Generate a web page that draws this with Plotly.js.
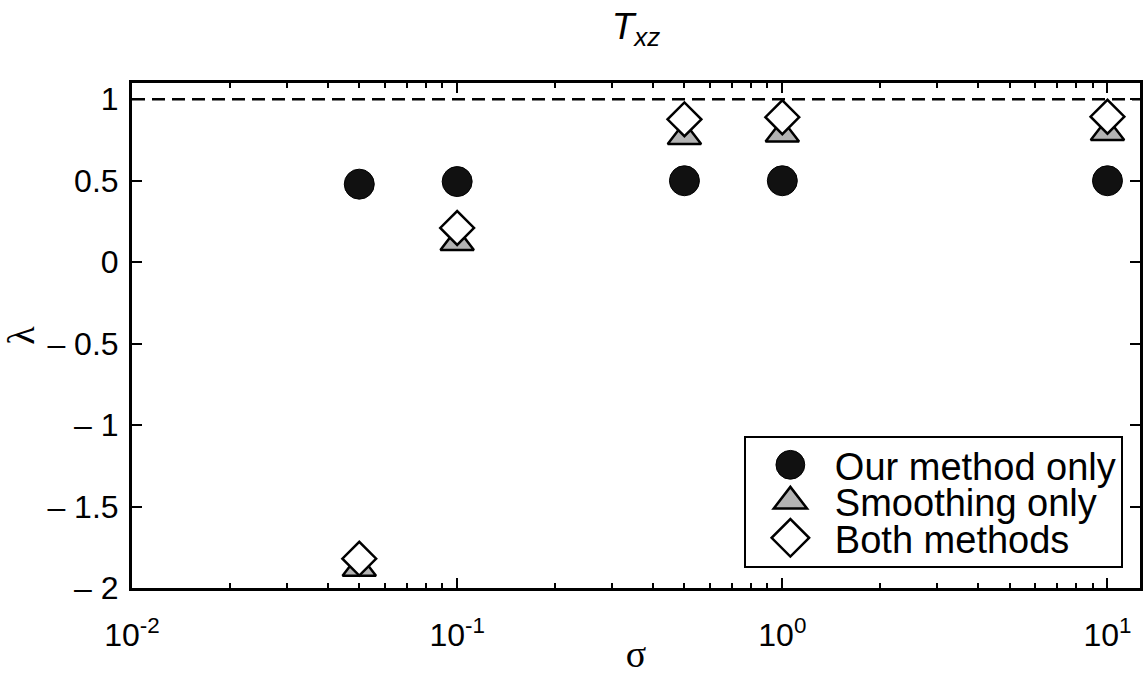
<!DOCTYPE html>
<html>
<head>
<meta charset="utf-8">
<script src="https://cdn.plot.ly/plotly-3.0.1.min.js"></script>
<style>
  html, body { margin: 0; padding: 0; background: #fff; }
  #chart { width: 1143px; height: 675px; }
</style>
</head>
<body>
<div id="chart"></div>
<script>
// ---- data ----
const sigmaValues = [0.05, 0.1, 0.5, 1, 10];
const ourMethodOnly = [0.479, 0.495, 0.5, 0.5, 0.5];
const smoothingOnly = [-1.88, 0.12, 0.77, 0.785, 0.795];
const bothMethods = [-1.82, 0.21, 0.877, 0.89, 0.893];
const seriesNames = ['Our method only', 'Smoothing only', 'Both methods'];
const referenceLevel = 1;
const xTickVals = [0.01, 0.1, 1, 10];
const xTickText = ['10<sup>-2</sup>', '10<sup>-1</sup>', '10<sup>0</sup>', '10<sup>1</sup>'];
const yTickVals = [-2, -1.5, -1, -0.5, 0, 0.5, 1];
const yTickText = ['\u2013 2', '\u2013 1.5', '\u2013 1', '\u2013 0.5', '0', '0.5', '1'];
const chartTitle = '<i>T<sub>xz</sub></i>';
const xTitle = '\u03c3';
const yTitle = '\u03bb';

const sans = 'Liberation Sans, Arial, sans-serif';
const serif = 'Liberation Serif, Times New Roman, serif';

const traces = [
  {
    x: sigmaValues, y: ourMethodOnly, name: seriesNames[0], type: 'scatter', mode: 'markers',
    cliponaxis: false,
    marker: { symbol: 'circle', size: 30, color: '#111111', line: { color: '#000', width: 1 } }
  },
  {
    x: sigmaValues, y: smoothingOnly, name: seriesNames[1], type: 'scatter', mode: 'markers',
    cliponaxis: false,
    marker: { symbol: 'triangle-up', size: 29, color: '#b3b3b3', line: { color: '#000', width: 2.5 } }
  },
  {
    x: sigmaValues, y: bothMethods, name: seriesNames[2], type: 'scatter', mode: 'markers',
    cliponaxis: false,
    marker: { symbol: 'diamond', size: 26, color: '#ffffff', line: { color: '#000', width: 2.5 } }
  }
];

const axisCommon = {
  showline: true, linecolor: '#000', linewidth: 3, mirror: 'allticks',
  ticks: 'inside', ticklen: 10, tickwidth: 2, tickcolor: '#000',
  showgrid: false, zeroline: false,
  tickfont: { family: sans, size: 32, color: '#000' }
};

const layout = {
  width: 1143, height: 675,
  paper_bgcolor: '#fff', plot_bgcolor: '#fff',
  margin: { l: 132, r: 3, t: 83, b: 87 },
  title: {
    text: chartTitle, x: 0.5, xref: 'paper', y: 0.962, yref: 'container', yanchor: 'middle',
    font: { family: sans, size: 37, color: '#000' }
  },
  xaxis: Object.assign({}, axisCommon, {
    type: 'log', range: [-2, 1.1],
    tickvals: xTickVals, ticktext: xTickText,
    ticklabelstandoff: 17,
    minor: { ticks: 'inside', ticklen: 5, tickwidth: 2, tickcolor: '#000', dtick: 'D1', showgrid: false },
    title: { text: xTitle, font: { family: serif, size: 38, color: '#000' }, standoff: 1 }
  }),
  yaxis: Object.assign({}, axisCommon, {
    range: [-2, 1.1],
    tickvals: yTickVals, ticktext: yTickText,
    ticklabelstandoff: 4,
    title: { text: yTitle, font: { family: serif, size: 38, color: '#000' }, standoff: 14 }
  }),
  shapes: [{
    type: 'line', xref: 'paper', x0: 0, x1: 1, yref: 'y', y0: referenceLevel, y1: referenceLevel,
    line: { color: '#000', width: 2.5, dash: '13px,7px' }, layer: 'below'
  }],
  showlegend: true,
  legend: {
    x: 0.983, xanchor: 'right', y: 0.04, yanchor: 'bottom',
    bgcolor: '#fff', bordercolor: '#000', borderwidth: 2,
    font: { family: sans, size: 38, color: '#000' },
    itemwidth: 79
  }
};

function parseTranslate(t) {
  const m = /translate\(\s*([-\d.e]+)[\s,]+([-\d.e]+)\s*\)/.exec(t || '');
  return m ? [parseFloat(m[1]), parseFloat(m[2])] : [0, 0];
}

Plotly.newPlot('chart', traces, layout, { displayModeBar: false, staticPlot: true }).then(function () {
  // enlarge legend symbols
  document.querySelectorAll('.legend .scatterpts').forEach(function (el) {
    el.setAttribute('transform', (el.getAttribute('transform') || '') + ' scale(1.8)');
    el.style.vectorEffect = 'non-scaling-stroke';
  });
  // tighten legend rows (MATLAB-style compact legend)
  try {
    const leg = document.querySelector('.legend');
    const bg = leg.querySelector('rect.bg');
    const items = leg.querySelectorAll('.traces');
    const padTop = 29, rowGap = 36.5, padBottom = 28;
    items.forEach(function (it, i) {
      const p = parseTranslate(it.getAttribute('transform'));
      it.setAttribute('transform', 'translate(' + p[0] + ',' + (padTop + i * rowGap) + ')');
    });
    const oldH = parseFloat(bg.getAttribute('height'));
    const newH = padTop + (items.length - 1) * rowGap + padBottom;
    bg.setAttribute('height', newH);
    const lp = parseTranslate(leg.getAttribute('transform'));
    leg.setAttribute('transform', 'translate(' + lp[0] + ',' + (lp[1] + oldH - newH) + ')');
  } catch (e) { /* keep default legend */ }
});
</script>
</body>
</html>
